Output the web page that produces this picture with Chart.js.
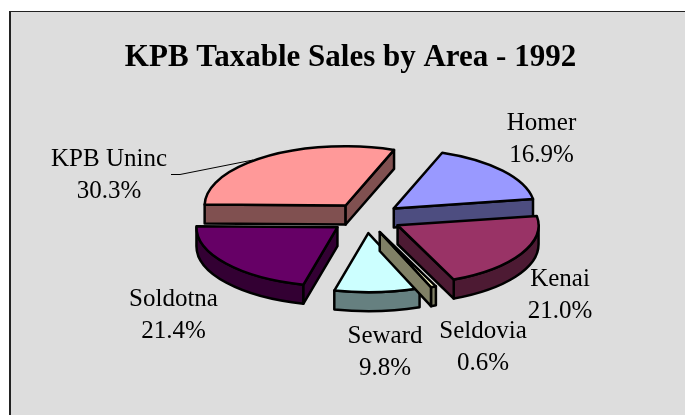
<!DOCTYPE html>
<html>
<head>
<meta charset="utf-8">
<title>KPB Taxable Sales by Area - 1992</title>
<script src="https://cdn.jsdelivr.net/npm/chart.js@4"></script>
<style>
    body { margin: 0; background: #fff; }
    canvas { display: block; }
</style>
</head>
<body>
<canvas id="sales_chart" width="685" height="415"></canvas>
<script>
const chartTitle = 'KPB Taxable Sales by Area - 1992';
const areas = ['KPB Uninc', 'Homer', 'Kenai', 'Seldovia', 'Seward', 'Soldotna'];
const shares = [30.3, 16.9, 21.0, 0.6, 9.8, 21.4];
const topColors = ['#FF9999', '#9999FF', '#993366', '#FFFFCC', '#CCFFFF', '#660066'];
const sideColors = ['#805050', '#4D4D80', '#4D1A33', '#808066', '#668080', '#330033'];

/*label centres and baselines, one per area, in the same order*/
const labelSpots = [[109, 166], [541.5, 130], [560, 286], [483, 338], [385, 343], [173.5, 306]];
const labelGap = 32;

const squash = 0.42;
const depth = 19;
const explode = 36;
const drawOrder = [0, 1, 5, 2, 4, 3];

function wedgePath(ctx, x, y, r, a0, a1) {
    ctx.beginPath();
    ctx.moveTo(x, y);
    ctx.ellipse(x, y, r, r * squash, 0, a0, a1);
    ctx.closePath();
}

function wallPath(ctx, x, y, r, a) {
    const ex = x + Math.cos(a) * r;
    const ey = y + Math.sin(a) * r * squash;
    ctx.beginPath();
    ctx.moveTo(x, y);
    ctx.lineTo(ex, ey);
    ctx.lineTo(ex, ey + depth);
    ctx.lineTo(x, y + depth);
    ctx.closePath();
}

function rimPath(ctx, x, y, r, a0, a1) {
    ctx.beginPath();
    ctx.ellipse(x, y, r, r * squash, 0, a0, a1);
    ctx.ellipse(x, y + depth, r, r * squash, 0, a1, a0, true);
    ctx.closePath();
}

function paint(ctx, fill) {
    ctx.fillStyle = fill;
    ctx.fill();
    ctx.stroke();
}

const piePlugin = {
    id: 'pie3d',
    beforeDraw(chart) {
        const ctx = chart.ctx;
        ctx.save();
        ctx.fillStyle = '#DDDDDD';
        ctx.fillRect(10, 11, 675, 404);
        ctx.fillStyle = '#222222';
        ctx.fillRect(9, 11, 676, 1);
        ctx.fillRect(9, 11, 2, 404);
        ctx.restore();
    },
    /*the arcs keep the library's geometry, only the painting is tilted here*/
    beforeDatasetDraw(chart) {
        const ctx = chart.ctx;
        const arcs = chart.getDatasetMeta(0).data;
        ctx.save();
        ctx.strokeStyle = '#000';
        ctx.lineWidth = 2.5;
        ctx.lineJoin = 'round';
        drawOrder.forEach(function (i) {
            const arc = arcs[i];
            const a0 = arc.startAngle;
            const a1 = arc.endAngle;
            const mid = (a0 + a1) / 2;
            const x = arc.x + Math.cos(mid) * explode;
            const y = arc.y + Math.sin(mid) * explode * squash;
            const r = arc.outerRadius;
            const side = sideColors[i];

            /*outer rim, only the part that faces the viewer*/
            const turn = Math.PI * 2;
            for (let k = 0; k <= 1; k++) {
                const from = Math.max(a0, k * turn);
                const to = Math.min(a1, Math.PI + k * turn);
                if (to > from) {
                    rimPath(ctx, x, y, r, from, to);
                    paint(ctx, side);
                }
            }
            /*cut faces*/
            if (Math.cos(a0) < 0.001) {
                wallPath(ctx, x, y, r, a0);
                paint(ctx, side);
            }
            if (Math.cos(a1) > 0.001) {
                wallPath(ctx, x, y, r, a1);
                paint(ctx, side);
            }
            wedgePath(ctx, x, y, r, a0, a1);
            paint(ctx, topColors[i]);
        });
        ctx.restore();
        return false;
    },
    afterDraw(chart) {
        const ctx = chart.ctx;
        ctx.save();
        ctx.fillStyle = '#000';
        ctx.textAlign = 'center';
        ctx.textBaseline = 'alphabetic';
        ctx.font = 'bold 31px "Liberation Serif"';
        ctx.fillText(chartTitle, 350.5, 66);
        ctx.font = '25px "Liberation Serif"';
        areas.forEach(function (name, i) {
            ctx.fillText(name, labelSpots[i][0], labelSpots[i][1]);
            ctx.fillText(shares[i].toFixed(1) + '%', labelSpots[i][0], labelSpots[i][1] + labelGap);
        });
        ctx.strokeStyle = '#000';
        ctx.lineWidth = 1;
        ctx.beginPath();
        ctx.moveTo(171, 174.5);
        ctx.lineTo(180, 174.5);
        ctx.lineTo(253, 160);
        ctx.stroke();
        ctx.restore();
    }
};

new Chart(document.getElementById('sales_chart').getContext('2d'), {
    type: 'pie',
    data: {
        labels: areas,
        datasets: [{
            data: shares,
            backgroundColor: topColors,
            borderWidth: 0
        }]
    },
    options: {
        responsive: false,
        animation: false,
        rotation: 271,
        radius: 141,
        layout: { padding: { left: 47, top: 21 } },
        plugins: {
            legend: { display: false },
            tooltip: { enabled: false }
        }
    },
    plugins: [piePlugin]
});
</script>
</body>
</html>
